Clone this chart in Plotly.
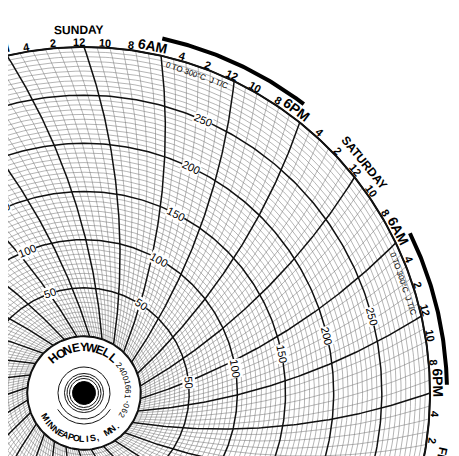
import numpy as np
import plotly.graph_objects as go

# chart scale: 0..300 degC, 7 day chart (168 h per turn)
temp_min, temp_max = 0, 300
temp_labels = [50, 100, 150, 200, 250]
hours_per_turn = 168
# clockwise from Sunday noon (top), every 2 hours
clock_labels = ["12", "10", "8", "6AM", "4", "2", "12", "10", "8", "6PM", "4", "2"]
days = ["SUNDAY", "SATURDAY", "FRIDAY", "THURSDAY", "WEDNESDAY", "TUESDAY", "MONDAY"]
range_text = "0 TO 300°C  J T/C"
maker = "HONEYWELL"
city = "MINNEAPOLIS, MN."
part_no = "24001661-062"

# geometry (pixels, centre of chart at origin)
R0, R1 = 57.0, 346.0          # radius of 0 and 300
ARC_D, ARC_L = 600.0, 620.0   # pen arc pivot distance / arc radius


def t2r(t):
    return R0 + (R1 - R0) * (t - temp_min) / (temp_max - temp_min)


def phi(r):
    return np.degrees(np.arccos((r**2 + ARC_D**2 - ARC_L**2) / (2 * r * ARC_D)))


def offset(r):
    return phi(r) - phi(R1)


def hour_ang(h):
    return h * 360.0 / hours_per_turn


def xy(r, th):
    th = np.radians(th)
    return r * np.sin(th), r * np.cos(th)


def ring(rs, a0=0, a1=360, n=500):
    xs, ys = [], []
    a = np.linspace(a0, a1, n)
    for r in rs:
        x, y = xy(r, a)
        xs += list(x) + [None]
        ys += list(y) + [None]
    return xs, ys


fig = go.Figure()


def add(xs, ys, w, c):
    fig.add_trace(go.Scatter(x=xs, y=ys, mode="lines", line=dict(width=w, color=c),
                             hoverinfo="skip", showlegend=False))


# temperature circles
minor = [t for t in range(temp_min, temp_max + 1, 5) if t % 50]
major = [t for t in range(temp_min, temp_max + 1, 50)]
add(*ring([t2r(t) for t in minor]), 0.55, "#777")

# time lines
rr = np.linspace(R0, R1, 120)
tx, ty, bx, by = [], [], [], []
for h in range(hours_per_turn):
    x, y = xy(rr, hour_ang(h) + offset(rr))
    if h % 6 == 0:
        bx += list(x) + [None]; by += list(y) + [None]
    else:
        tx += list(x) + [None]; ty += list(y) + [None]
add(tx, ty, 0.55, "#777")
add(*ring([t2r(t) for t in major]), 1.5, "#111")
add(bx, by, 1.5, "#111")
add(*ring([R1]), 2, "#111")

# night arcs (6AM back to 6PM)
for d in range(7):
    a0 = hour_ang(d * 24 + 6) - 0.4
    a1 = hour_ang(d * 24 + 18) - 1.3
    add(*ring([363], a0, a1, 80), 4, "#000")

# hub
hx, hy = ring([R0 - 0.5], n=200)
fig.add_trace(go.Scatter(x=hx, y=hy, fill="toself", fillcolor="white", mode="lines",
                         line=dict(width=1.5, color="#111"), hoverinfo="skip", showlegend=False))
dx, dy = ring([11.5], n=100)
fig.add_trace(go.Scatter(x=dx, y=dy, fill="toself", fillcolor="black", mode="lines",
                         line=dict(width=1, color="black"), hoverinfo="skip", showlegend=False))
add(*ring([14.5, 17, 19.5, 26], n=200), 1, "#111")
add(*ring([31], 122, 238, 80), 1, "#111")

ann = []
# page body has an 8px margin, so the view is shifted by that much
XMIN, XMAX, YMIN, YMAX = -76, 383, -71, 385


def label(r, th, text, size, angle=None, weight=600, bg=None):
    x, y = xy(r, th)
    if not (XMIN - 20 < x < XMAX + 20 and YMIN - 20 < y < YMAX + 20):
        return
    # keep the anchor inside the axes (else plotly hides it), shift in pixels
    xc = min(max(x, XMIN + 0.5), XMAX - 0.5)
    yc = min(max(y, YMIN + 0.5), YMAX - 0.5)
    d = dict(x=xc, y=yc, xshift=x - xc, yshift=y - yc, text=text, showarrow=False,
             textangle=th if angle is None else angle,
             font=dict(family="Liberation Sans", size=size, color="black", weight=weight))
    if bg:
        d["bgcolor"] = bg
        d["borderpad"] = 0
    ann.append(d)


# hour and day labels
for h in range(0, hours_per_turn, 2):
    txt = clock_labels[(h % 24) // 2]
    big = "M" in txt
    label(354 if big else 351, hour_ang(h) - (1.6 if big else 0.8), txt, 14 if big else 11)
for i, day in enumerate(days):
    label(363, hour_ang(i * 24) - 0.8, day, 12)
    label(337, hour_ang(i * 24 + 6) + 6.8, range_text, 8, weight=400)

# temperature labels near each midnight line
for i in range(7):
    base = hour_ang(i * 24 + 12) - 3.7
    for t in temp_labels:
        r = t2r(t)
        label(r, base + 0.55 * offset(r), str(t), 11, weight=400, bg="white")

# hub text
for k, ch in enumerate(maker):
    th = -41 + 81 * k / (len(maker) - 1)
    label(46, th, ch, 12, weight=700)
for k, ch in enumerate(city):
    th = 238 - 103 * k / (len(city) - 1)
    label(46, th, ch, 9, angle=th - 180, weight=700)
for k, ch in enumerate(part_no):
    th = 52 + 68 * k / (len(part_no) - 1)
    label(44, th, ch, 8, weight=400)

fig.update_layout(
    width=459, height=456, margin=dict(l=0, r=0, t=0, b=0),
    paper_bgcolor="white", plot_bgcolor="white", annotations=ann,
    xaxis=dict(range=[XMIN, XMAX], visible=False, fixedrange=True),
    yaxis=dict(range=[YMIN, YMAX], visible=False, fixedrange=True),
)
fig.write_html("out.html")
